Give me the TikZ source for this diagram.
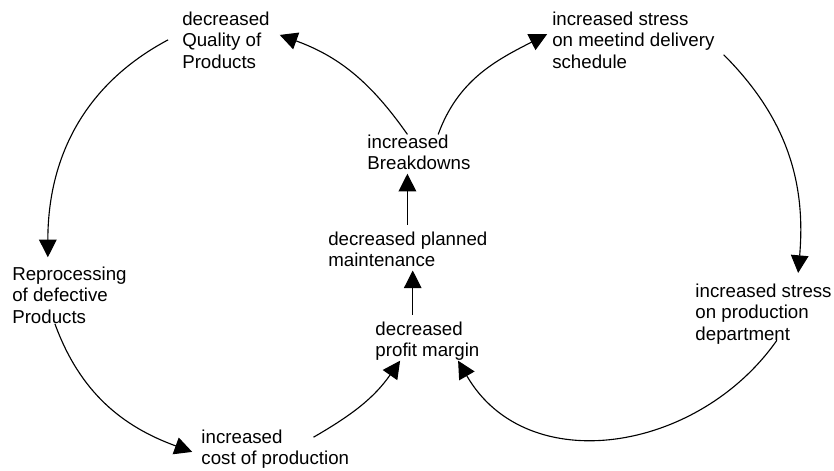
\documentclass[tikz,border=0pt]{standalone}
\usepackage{fontspec}
\setmainfont{Liberation Sans}
\usetikzlibrary{arrows.meta}

\begin{document}
\begin{tikzpicture}[
  lbl/.style={anchor=north west, inner sep=0pt, align=left, font=\fontsize{13.3}{15.3}\selectfont},
  link/.style={draw, line width=0.8pt, -{Triangle[length=12.5pt,width=12.5pt]}}]
\useasboundingbox (0,0) rectangle (20.85,11.75);

\node[lbl] (qual) at (4.55,11.47) {decreased\\Quality of\\Products};
\node[lbl] (sched) at (13.80,11.47) {increased stress\\on meetind delivery\\schedule};
\node[lbl] (brk) at (9.18,8.39) {increased\\Breakdowns};
\node[lbl] (maint) at (8.20,5.97) {decreased planned\\maintenance};
\node[lbl] (profit) at (9.38,3.72) {decreased\\profit margin};
\node[lbl] (reproc) at (0.30,5.09) {Reprocessing\\of defective\\Products};
\node[lbl] (cost) at (5.03,1.02) {increased\\cost of production};
\node[lbl] (prodn) at (17.38,4.67) {increased stress\\on production\\department};

\path[link] ([xshift=-9.9pt]qual.west) to[out=208,in=90] ([xshift=25.5pt,yshift=6.5pt]reproc.north west);
\path[link] ([xshift=30.5pt]reproc.south west) to[out=-70,in=160] ([xshift=-6.4pt,yshift=-2.1pt]cost.west);
\path[link] ([xshift=-25.5pt,yshift=-5.7pt]cost.north east) to[out=30,in=-125] ([xshift=17.7pt]profit.south west);
\path[link] ([xshift=3.5pt,yshift=4.5pt]profit.north -| maint.south) -- ([xshift=3.5pt,yshift=-2.5pt]maint.south);
\path[link] ([xshift=-8.2pt,yshift=4.5pt]brk.south |- maint.north) -- ([xshift=-8.2pt,yshift=-2.5pt]brk.south);
\path[link] ([xshift=-8.2pt]brk.north) to[out=125,in=-20] ([xshift=7pt,yshift=3.5pt]qual.east);
\path[link] ([xshift=13.7pt]brk.north) to[out=70,in=207] ([xshift=-3.5pt,yshift=4pt]sched.west);
\path[link] ([xshift=6.4pt,yshift=-10.6pt]sched.east) to[out=-45,in=85] ([xshift=24.6pt,yshift=7.3pt]prodn.north);
\path[link] ([xshift=58.1pt,yshift=2.8pt]prodn.south west) to[out=235,in=-60,looseness=1.1] ([xshift=21.8pt]profit.south);
\end{tikzpicture}
\end{document}
